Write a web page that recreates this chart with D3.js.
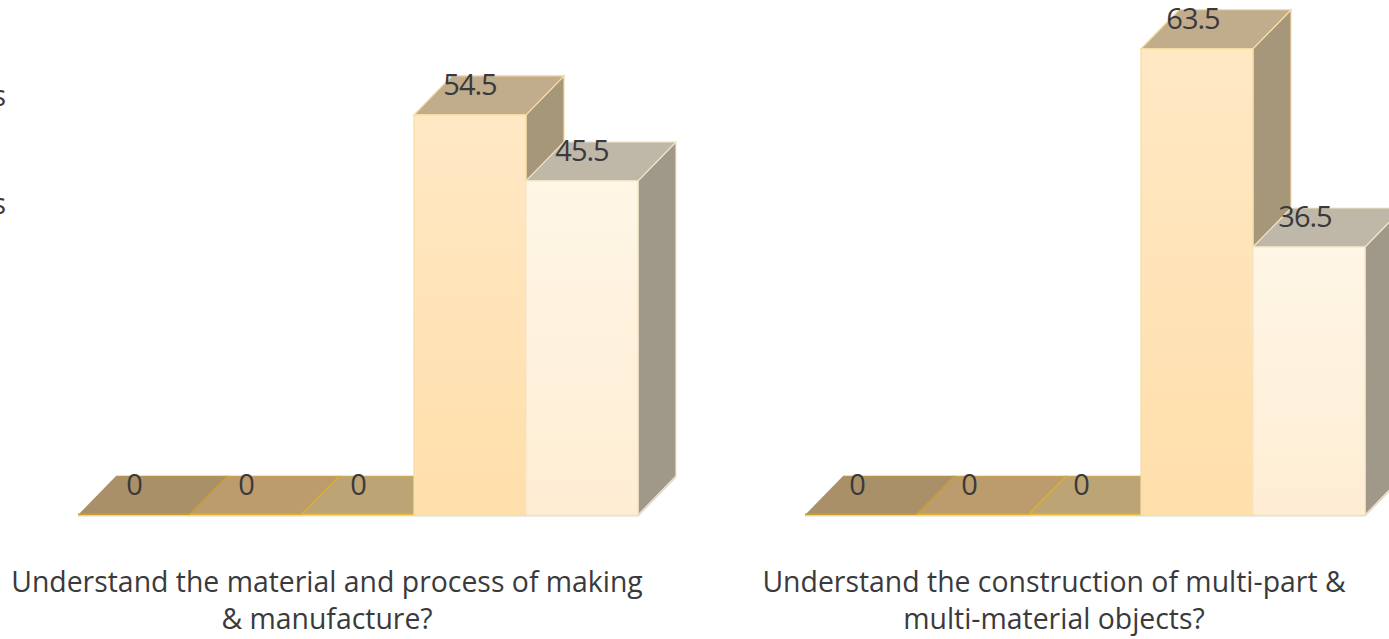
<!DOCTYPE html>
<head>
  <meta charset="utf-8">
  <style>
    html, body { margin: 0; padding: 0; background: #fff; overflow: hidden; }
    text { font-family: "Open Sans", sans-serif; fill: #3a3a3c; }
  </style>
  <script src="https://cdn.jsdelivr.net/npm/d3@7"></script>
</head>
<body>
<svg id="chart" width="1389" height="639"></svg>

<script>
// data
const series_keys = ['a', 'b', 'c', 'd', 'e']
const material_values = [0, 0, 0, 54.5, 45.5]
const construction_values = [0, 0, 0, 63.5, 36.5]
const material_label = ['Understand the material and process of making', '& manufacture?']
const construction_label = ['Understand the construction of multi-part &', 'multi-material objects?']
const legend_tails = ['s', 's']

// per series colours: front gradient top/bottom, top face, side face, edge
const front_top = ['#d9b25c', '#dcb050', '#e0b548', '#ffe8c4', '#fff6e6']
const front_bottom = ['#d9b25c', '#dcb050', '#e0b548', '#ffdfab', '#feedd3']
const top_fill = ['#a99069', '#bc9c6d', '#bda475', '#c1ad8b', '#bfb8a8']
const side_fill = ['#a08a66', '#b09468', '#b09c70', '#a6967a', '#a09889']
const edge_fill = ['#c9a02c', '#e2b028', '#e8b830', '#f6dca2', '#f5e6c8']

const svg = d3.select('#chart')
const defs = svg.append('defs')
series_keys.forEach((k, i) => {
  const g = defs.append('linearGradient').attr('id', `front_${k}`)
    .attr('x1', 0).attr('x2', 0).attr('y1', 0).attr('y2', 1)
  g.append('stop').attr('offset', 0).attr('stop-color', front_top[i])
  g.append('stop').attr('offset', 1).attr('stop-color', front_bottom[i])
})

const y = d3.scaleLinear().domain([0, 70]).range([515, 1])
const depth_x = 38, depth_y = 39

const poly = (pts) => d3.line()(pts) + 'Z'

function draw_panel(values, label, x0, label_x, text_nudge) {
  const x = d3.scaleBand().domain(series_keys).range([x0, x0 + 560])
  const w = x.bandwidth()
  const g = svg.append('g')

  series_keys.forEach((k, i) => {
    const v = values[i]
    const l = x(k), r = l + w, t = y(v), b = y(0)
    const bar = g.append('g')
    if (v > 0) {
      bar.append('path')
        .attr('d', poly([[r, t], [r + depth_x, t - depth_y], [r + depth_x, b - depth_y], [r, b]]))
        .attr('fill', side_fill[i]).attr('stroke', edge_fill[i]).attr('stroke-width', 1.2)
      bar.append('path')
        .attr('d', poly([[l, t], [l + depth_x, t - depth_y], [r + depth_x, t - depth_y], [r, t]]))
        .attr('fill', top_fill[i]).attr('stroke', edge_fill[i]).attr('stroke-width', 1.2)
      bar.append('rect')
        .attr('x', l).attr('y', t).attr('width', w).attr('height', b - t)
        .attr('fill', `url(#front_${k})`).attr('stroke', edge_fill[i]).attr('stroke-width', 1.2)
    } else {
      // zero height bar is only a floor plate: gold on the front and right edges
      bar.append('path')
        .attr('d', poly([[l, t], [l + depth_x, t - depth_y], [r + depth_x, t - depth_y], [r, t]]))
        .attr('fill', top_fill[i])
      bar.append('path')
        .attr('d', d3.line()([[l + depth_x, t - depth_y], [r + depth_x, t - depth_y]]))
        .attr('fill', 'none').attr('stroke', edge_fill[i]).attr('stroke-opacity', 0.45).attr('stroke-width', 1.5)
      bar.append('path')
        .attr('d', d3.line()([[l, t - 0.5], [r, t - 0.5], [r + depth_x, t - depth_y]]))
        .attr('fill', 'none').attr('stroke', edge_fill[i]).attr('stroke-width', 2)
    }
  })

  // ground shadow line under the row
  g.append('path')
    .attr('d', d3.line()([[x0, y(0) + 1], [x0 + 560, y(0) + 1], [x0 + 560 + depth_x, y(0) - depth_y + 1]]))
    .attr('fill', 'none').attr('stroke', '#dbd8ce').attr('stroke-width', 1.2)

  // value labels go on top of every bar
  series_keys.forEach((k, i) => {
    g.append('text')
      .attr('x', x(k) + w / 2 + text_nudge)
      .attr('y', y(values[i]) - 20)
      .attr('text-anchor', 'middle')
      .attr('font-size', 29)
      .attr('letter-spacing', -1)
      .text(values[i])
  })

  g.append('text')
    .attr('x', label_x).attr('y', 592)
    .attr('text-anchor', 'middle').attr('font-size', 28.4)
    .selectAll('tspan').data(label).join('tspan')
    .attr('x', label_x).attr('dy', (d, i) => i ? 37 : 0)
    .text(d => d)
}

draw_panel(material_values, material_label, 78, 327, 0)
draw_panel(construction_values, construction_label, 805, 1054, -4)

// legend is cut off by the left edge of the picture, only the tails show
svg.selectAll('.legend_tail').data(legend_tails).join('text')
  .attr('class', 'legend_tail')
  .attr('x', 6).attr('y', (d, i) => 106 + i * 108)
  .attr('text-anchor', 'end').attr('font-size', 29)
  .text(d => d)
</script>
</body>
